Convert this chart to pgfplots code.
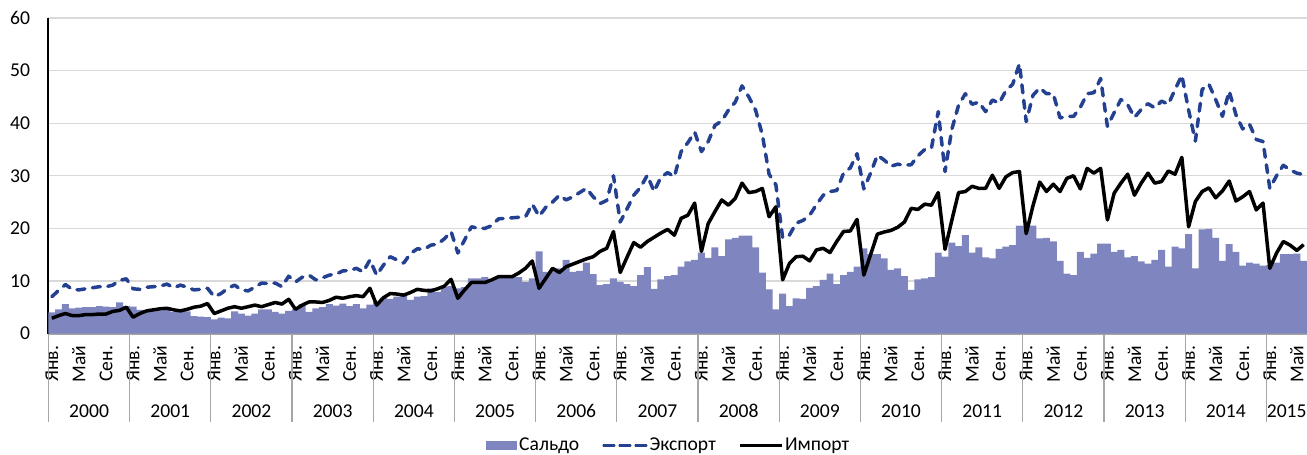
\documentclass[border=0pt]{standalone}
\usepackage{fontspec}
\setmainfont{Carlito}
\usepackage{pgfplots}
\usepackage{pgfplotstable}
\pgfplotsset{compat=1.18}
\definecolor{barc}{RGB}{127,133,190}
\definecolor{expc}{RGB}{35,64,145}
\definecolor{gridc}{RGB}{217,217,217}
\definecolor{axc}{RGB}{166,166,166}
\newcommand{\fs}{\fontsize{9.8}{11.5}\selectfont}
\tikzset{expstyle/.style={expc, line width=1.75pt, dash pattern=on 4pt off 3.8pt, line cap=round, line join=round},
         impstyle/.style={black, line width=1.75pt, line join=round}}

\pgfplotstableread{
m S E I
0 4.0 7.0 2.9
1 4.6 8.2 3.4
2 5.6 9.3 3.8
3 4.8 8.4 3.4
4 4.9 8.3 3.4
5 5.0 8.5 3.6
6 5.0 8.7 3.6
7 5.2 8.9 3.7
8 5.1 8.9 3.7
9 5.0 9.2 4.2
10 5.9 10.1 4.4
11 5.2 10.4 5.0
12 5.1 8.5 3.1
13 4.5 8.4 3.8
14 4.3 8.8 4.3
15 4.4 8.9 4.5
16 4.4 9.0 4.7
17 4.6 9.4 4.8
18 4.1 8.7 4.5
19 4.5 9.2 4.3
20 4.2 8.8 4.6
21 3.3 8.3 5.0
22 3.2 8.4 5.2
23 3.1 8.6 5.7
24 2.7 7.0 3.8
25 3.0 7.6 4.3
26 2.9 8.6 4.8
27 4.2 9.2 5.1
28 3.8 8.3 4.8
29 3.4 8.1 5.1
30 3.8 8.8 5.4
31 4.6 9.6 5.1
32 4.6 9.5 5.5
33 4.1 9.6 5.9
34 3.8 8.9 5.6
35 4.3 10.9 6.5
36 4.6 9.8 4.6
37 5.6 10.7 5.4
38 4.1 11.1 6.0
39 4.8 10.2 6.0
40 5.0 10.6 5.9
41 5.6 11.1 6.3
42 5.3 11.3 6.9
43 5.7 11.9 6.7
44 5.2 12.0 7.0
45 5.6 12.4 7.2
46 4.8 11.7 7.0
47 5.5 14.0 8.6
48 6.0 11.1 5.4
49 6.8 13.0 6.8
50 6.6 14.6 7.6
51 7.0 14.0 7.5
52 7.1 13.4 7.3
53 6.4 15.2 7.8
54 7.0 16.1 8.4
55 7.1 16.0 8.2
56 8.6 16.8 8.1
57 7.9 17.0 8.5
58 8.9 18.0 9.0
59 9.0 19.4 10.3
60 8.6 15.3 6.7
61 8.8 17.8 8.3
62 10.5 20.3 9.7
63 10.5 20.0 9.7
64 10.7 20.0 9.7
65 10.2 20.5 10.2
66 10.8 21.8 10.8
67 10.8 21.9 10.8
68 10.8 22.0 10.8
69 10.7 22.1 11.5
70 9.8 22.2 12.4
71 10.5 24.6 13.8
72 15.6 22.3 8.6
73 11.7 24.0 10.5
74 12.1 25.0 12.4
75 12.4 26.3 11.6
76 14.0 25.4 12.7
77 11.7 26.0 13.2
78 11.9 26.8 13.7
79 13.5 27.6 14.2
80 11.3 26.0 14.6
81 9.2 24.7 15.6
82 9.4 25.3 16.2
83 10.5 30.0 19.4
84 9.8 21.2 11.6
85 9.4 23.7 14.5
86 9.0 26.3 17.3
87 11.1 27.8 16.4
88 12.6 30.1 17.5
89 8.5 27.0 18.3
90 10.3 29.7 19.1
91 10.9 30.6 19.8
92 11.1 29.8 18.7
93 12.7 34.6 21.9
94 13.7 36.3 22.5
95 14.0 38.3 24.8
96 15.4 34.6 15.6
97 14.4 36.5 20.9
98 16.4 39.6 23.2
99 14.7 40.4 25.4
100 17.9 42.5 24.4
101 18.2 44.0 25.7
102 18.6 47.1 28.6
103 18.6 45.0 26.8
104 16.4 42.5 27.0
105 11.6 37.8 27.6
106 8.4 30.3 22.2
107 4.6 28.3 24.1
108 7.6 18.2 10.2
109 5.2 18.7 13.3
110 6.7 21.0 14.6
111 6.6 21.5 14.7
112 8.7 22.5 13.8
113 9.0 24.5 15.9
114 10.2 26.3 16.2
115 11.4 27.0 15.4
116 9.4 27.2 17.5
117 11.1 30.5 19.4
118 11.7 31.5 19.5
119 12.7 34.2 21.7
120 16.2 27.5 11.1
121 15.1 30.5 15.0
122 15.1 33.9 18.9
123 14.3 33.0 19.3
124 12.1 31.8 19.6
125 12.4 32.2 20.2
126 10.9 32.0 21.2
127 8.3 32.1 23.8
128 10.3 33.8 23.6
129 10.5 35.0 24.6
130 10.7 35.3 24.4
131 15.4 42.2 26.8
132 14.6 30.8 16.0
133 17.3 38.8 21.5
134 16.6 43.4 26.8
135 18.7 45.6 27.0
136 15.4 43.6 28.0
137 16.4 44.0 27.6
138 14.5 42.2 27.6
139 14.3 44.4 30.1
140 16.1 43.8 27.6
141 16.5 46.2 29.8
142 16.8 47.4 30.6
143 20.5 51.3 30.8
144 20.5 40.3 19.0
145 20.5 45.3 24.3
146 18.1 46.7 28.8
147 18.2 45.6 27.0
148 17.5 45.6 28.4
149 13.8 41.0 27.0
150 11.4 41.3 29.5
151 11.1 41.3 30.0
152 15.5 43.0 27.5
153 14.4 45.6 31.4
154 15.2 45.8 30.5
155 17.1 48.5 31.4
156 17.1 39.4 21.6
157 15.5 42.0 26.7
158 15.9 44.5 28.6
159 14.5 43.5 30.3
160 14.7 41.1 26.3
161 13.7 42.6 28.6
162 13.3 43.7 30.5
163 14.0 42.9 28.6
164 15.9 44.2 28.9
165 12.7 43.6 30.9
166 16.5 46.4 30.3
167 16.2 49.1 33.5
168 18.9 42.5 20.3
169 12.4 36.6 25.1
170 19.8 46.4 27.0
171 19.9 47.4 27.7
172 18.2 44.5 25.8
173 13.8 41.3 27.1
174 17.0 46.1 29.0
175 15.5 41.6 25.2
176 12.9 38.9 26.0
177 13.5 39.8 27.0
178 13.3 36.9 23.5
179 12.9 36.5 24.8
180 13.0 27.6 12.4
181 13.5 30.0 15.3
182 15.1 32.0 17.5
183 15.1 31.1 16.8
184 15.2 30.5 15.8
185 13.8 30.2 16.9
}\data

\begin{document}
\begin{tikzpicture}
\begin{axis}[
  scale only axis, width=629.25pt, height=157.75pt,
  xmin=-0.5, xmax=185.5, ymin=0, ymax=60,
  axis lines=left, axis line style={-},
  x axis line style={axc, line width=1pt},
  y axis line style={black, line width=1pt},
  ytick={0,10,...,60},
  ymajorgrids, grid style={gridc, line width=0.6pt},
  xtick={0,4,...,184},
  xticklabels={Янв.,Май,Сен.,Янв.,Май,Сен.,Янв.,Май,Сен.,Янв.,Май,Сен.,Янв.,Май,Сен.,Янв.,Май,Сен.,Янв.,Май,Сен.,Янв.,Май,Сен.,Янв.,Май,Сен.,Янв.,Май,Сен.,Янв.,Май,Сен.,Янв.,Май,Сен.,Янв.,Май,Сен.,Янв.,Май,Сен.,Янв.,Май,Сен.,Янв.,Май},
  major tick length=0pt,
  tick style={draw=none},
  xticklabel style={rotate=90, anchor=east, inner sep=0pt, font=\fs},
  yticklabel style={anchor=east, inner sep=0pt, font=\fs},
  xticklabel shift=6pt, yticklabel shift=9pt,
  /pgf/number format/assume math mode=true,
  clip=false,
  legend columns=-1,
  legend style={at={(0.5,0)}, anchor=center, xshift=-4.5pt, yshift=-56pt, draw=none, fill=none,
    font=\fs, inner sep=0pt, nodes={inner sep=1pt},
    /tikz/every even column/.append style={column sep=10.5pt}},
]
\addplot[ybar, bar width=1.03, bar shift=0pt, fill=barc, draw=none,
  legend image code/.code={\fill[barc] (0pt,-2.25pt) rectangle (15.5pt,2.25pt);}]
  table[x=m, y=S] {\data};
\addlegendentry{Сальдо}
\addplot[expstyle,
  legend image code/.code={\draw[expc, line width=1.1pt, dash pattern=on 5.5pt off 2.5pt] (0pt,0pt) -- (21.5pt,0pt);}]
  table[x=m, y=E] {\data};
\addlegendentry{Экспорт}
\addplot[impstyle,
  legend image code/.code={\draw[black, line width=1.1pt] (0pt,0pt) -- (21pt,0pt);}]
  table[x=m, y=I] {\data};
\addlegendentry{Импорт}
\pgfplotsinvokeforeach{-0.5,11.5,23.5,35.5,47.5,59.5,71.5,83.5,95.5,107.5,119.5,131.5,143.5,155.5,167.5,179.5}{
  \draw[axc, line width=0.6pt] (axis cs:#1,0) -- ([yshift=-44pt]axis cs:#1,0);
}
\node[font=\fs] at ([yshift=-38.75pt]axis cs:5.5,0) {2000};
\node[font=\fs] at ([yshift=-38.75pt]axis cs:17.5,0) {2001};
\node[font=\fs] at ([yshift=-38.75pt]axis cs:29.5,0) {2002};
\node[font=\fs] at ([yshift=-38.75pt]axis cs:41.5,0) {2003};
\node[font=\fs] at ([yshift=-38.75pt]axis cs:53.5,0) {2004};
\node[font=\fs] at ([yshift=-38.75pt]axis cs:65.5,0) {2005};
\node[font=\fs] at ([yshift=-38.75pt]axis cs:77.5,0) {2006};
\node[font=\fs] at ([yshift=-38.75pt]axis cs:89.5,0) {2007};
\node[font=\fs] at ([yshift=-38.75pt]axis cs:101.5,0) {2008};
\node[font=\fs] at ([yshift=-38.75pt]axis cs:113.5,0) {2009};
\node[font=\fs] at ([yshift=-38.75pt]axis cs:125.5,0) {2010};
\node[font=\fs] at ([yshift=-38.75pt]axis cs:137.5,0) {2011};
\node[font=\fs] at ([yshift=-38.75pt]axis cs:149.5,0) {2012};
\node[font=\fs] at ([yshift=-38.75pt]axis cs:161.5,0) {2013};
\node[font=\fs] at ([yshift=-38.75pt]axis cs:173.5,0) {2014};
\node[font=\fs] at ([yshift=-38.75pt]axis cs:182.5,0) {2015};
\end{axis}
\pgfresetboundingbox
\path[use as bounding box] ([xshift=-24.25pt,yshift=-60.75pt]current axis.south west) rectangle ([yshift=9pt]current axis.north east);
\end{tikzpicture}
\end{document}
